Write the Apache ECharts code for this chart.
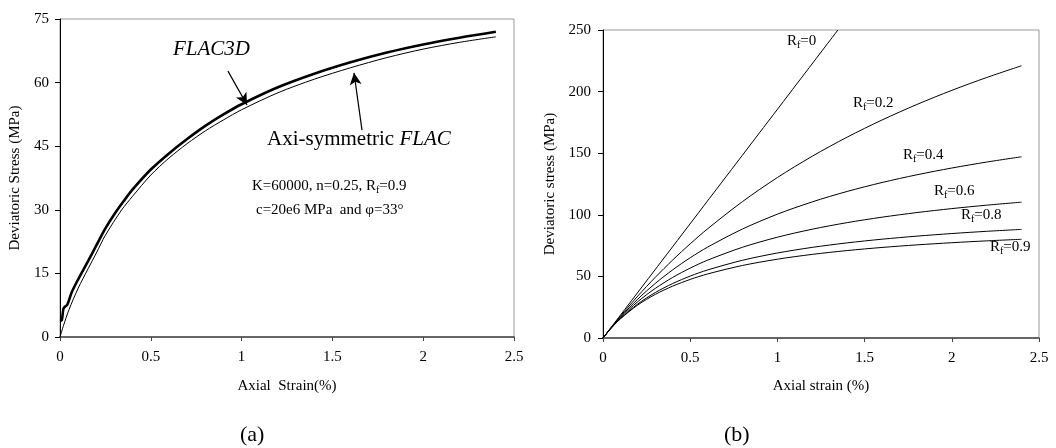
<!DOCTYPE html>
<html><head><meta charset="utf-8">
<script src="https://cdn.jsdelivr.net/npm/echarts@6/dist/echarts.min.js"></script>
<style>html,body{margin:0;padding:0;background:#fff}#c{width:1056px;height:448px}</style>
</head><body><div id="c"></div>
<script>
// ---- Data ----
// (a) stress-strain: [strain %, deviatoric stress MPa]
const flac3d = [[0,3.8],[0.01,4.0],[0.02,6.8],[0.04,7.6],[0.064,10.5],[0.1,13.6],[0.156,18.0],[0.2,21.6],[0.25,25.6],[0.3,29.0],[0.35,32.0],[0.4,34.8],[0.5,39.5],[0.6,43.3],[0.7,46.7],[0.8,49.8],[0.9,52.5],[1.0,54.9],[1.2,58.9],[1.4,62.1],[1.6,64.8],[1.8,67.1],[2.0,69.0],[2.2,70.6],[2.4,72.0]];
const axiFlac = [[0,0],[0.02,2.8],[0.05,6.5],[0.1,11.5],[0.156,16.2],[0.2,19.8],[0.25,24.0],[0.34,30.0],[0.4,33.2],[0.5,38.2],[0.6,42.2],[0.7,45.6],[0.8,48.6],[0.9,51.2],[1.0,53.6],[1.2,57.6],[1.4,60.8],[1.6,63.5],[1.8,65.9],[2.0,67.9],[2.2,69.5],[2.4,70.8]];
// (b) strain points and stresses for each Rf
const strainB = [0,0.05,0.1,0.2,0.3,0.4,0.5,0.6,0.8,1.0,1.2,1.4,1.6,1.8,2.0,2.2,2.4];
const rf0 = [[0,0],[1.347,250]];
const rf02 = [0,9.06,17.76,34.13,49.29,63.35,76.44,88.65,110.75,130.25,147.56,163.04,176.96,189.55,201.0,211.44,221.0];
const rf04 = [0,8.88,17.07,31.68,44.32,55.38,65.12,73.78,88.48,100.5,110.5,118.96,126.21,132.48,137.97,142.81,147.11];
const rf06 = [0,8.70,16.43,29.55,40.27,49.19,56.73,63.19,73.67,81.81,88.32,93.64,98.07,101.82,105.03,107.82,110.25];
const rf08 = [0,8.53,15.84,27.69,36.89,44.24,50.25,55.25,63.10,68.99,73.56,77.21,80.20,82.69,84.79,86.60,88.16];
const rf09 = [0,8.45,15.56,26.84,35.41,42.12,47.54,51.99,58.88,63.97,67.88,70.98,73.50,75.59,77.34,78.84,80.13];
const xTicksA = {min:0,max:2.5,interval:0.5};
const yTicksA = {min:0,max:75,interval:15};
const xTicksB = {min:0,max:2.5,interval:0.5};
const yTicksB = {min:0,max:250,interval:50};

const pair = (xs, ys) => xs.map((x,i)=>[x, ys[i]]);
const FONT = '"Liberation Serif","Times New Roman",serif';

const chart = echarts.init(document.getElementById('c'), null, {renderer:'canvas'});
const axisBase = (t) => ({
  type:'value', min:t.min, max:t.max, interval:t.interval,
  splitLine:{show:false},
  axisLabel:{color:'#000', fontFamily:FONT, fontSize:15},
  nameTextStyle:{color:'#000', fontFamily:FONT, fontSize:15},
  nameLocation:'middle'
});
const rich = {
  n:{fontFamily:FONT, fontSize:15, color:'#000'},
  s:{fontFamily:FONT, fontSize:10, color:'#000', padding:[8,0,0,0]},
  i:{fontFamily:FONT, fontSize:21, fontStyle:'italic', color:'#000'},
  b:{fontFamily:FONT, fontSize:21, color:'#000'}
};
const rfLabel = (v, x, y) => ({type:'text', left:x, top:y, style:{text:'{n|R}{s|f}{n|='+v+'}', rich:rich}});

const lineS = (name, data, xi, w) => ({
  type:'line', name, data, xAxisIndex:xi, yAxisIndex:xi, showSymbol:false, symbol:'none',
  smooth:0.3, lineStyle:{color:'#000', width:w}, silent:true, animation:false
});

const arrowLine = (a, b) => ({
  silent:true, symbol:['none','arrow'], symbolSize:[9,12], animation:false,
  lineStyle:{color:'#000', width:1.2, type:'solid'}, label:{show:false},
  data:[[{coord:a},{coord:b}]]
});

const axiSeries = lineS('Axi-symmetric FLAC', axiFlac, 0, 1);
axiSeries.markLine = arrowLine([1.663,48.8],[1.619,62.3]);
const f3dSeries = lineS('FLAC3D', flac3d, 0, 2.6);
f3dSeries.markLine = arrowLine([0.925,62.7],[1.03,54.7]);

chart.setOption({
  animation:false,
  backgroundColor:'#fff',
  grid:[
    {left:60, top:19, width:454, height:318, show:true, borderColor:'#999', borderWidth:1},
    {left:603, top:30, width:436, height:308, show:true, borderColor:'#999', borderWidth:1}
  ],
  xAxis:[
    Object.assign(axisBase(xTicksA), {gridIndex:0, name:'Axial  Strain(%)', nameGap:42,
      axisLine:{lineStyle:{color:'#444', width:1.5}}, axisTick:{inside:false, length:4, lineStyle:{color:'#444'}},
      axisLabel:{color:'#000', fontFamily:FONT, fontSize:15, margin:13}}),
    Object.assign(axisBase(xTicksB), {gridIndex:1, name:'Axial strain (%)', nameGap:41,
      axisLine:{lineStyle:{color:'#444', width:1.5}}, axisTick:{inside:false, length:4, lineStyle:{color:'#444'}},
      axisLabel:{color:'#000', fontFamily:FONT, fontSize:15, margin:13}})
  ],
  yAxis:[
    Object.assign(axisBase(yTicksA), {gridIndex:0, name:'Deviatoric Stress (MPa)', nameGap:37,
      axisLine:{lineStyle:{color:'#000', width:1}}, axisTick:{length:5, lineStyle:{color:'#000'}},
      axisLabel:{color:'#000', fontFamily:FONT, fontSize:15, margin:11}}),
    Object.assign(axisBase(yTicksB), {gridIndex:1, name:'Deviatoric stress (MPa)', nameGap:45,
      axisLine:{lineStyle:{color:'#000', width:1}}, axisTick:{length:5, lineStyle:{color:'#000'}},
      axisLabel:{color:'#000', fontFamily:FONT, fontSize:15, margin:12}})
  ],
  series:[
    axiSeries, f3dSeries,
    lineS('Rf=0', rf0, 1, 1),
    lineS('Rf=0.2', pair(strainB, rf02), 1, 1),
    lineS('Rf=0.4', pair(strainB, rf04), 1, 1),
    lineS('Rf=0.6', pair(strainB, rf06), 1, 1),
    lineS('Rf=0.8', pair(strainB, rf08), 1, 1),
    lineS('Rf=0.9', pair(strainB, rf09), 1, 1)
  ],
  graphic:[
    {type:'text', left:173, top:39, style:{text:'{i|FLAC3D}', rich:rich}},
    {type:'text', left:267, top:129, style:{text:'{b|Axi-symmetric }{i|FLAC}', rich:rich}},
    {type:'text', left:252, top:179, style:{text:'{n|K=60000, n=0.25, R}{s|f}{n|=0.9}', rich:rich}},
    {type:'text', left:256, top:203, style:{text:'{n|c=20e6 MPa  and φ=33°}', rich:rich}},
    rfLabel('0', 787, 34),
    rfLabel('0.2', 853, 96),
    rfLabel('0.4', 903, 148),
    rfLabel('0.6', 934, 184),
    rfLabel('0.8', 961, 208),
    rfLabel('0.9', 990, 240),
    {type:'text', left:240, top:424, style:{text:'(a)', font:'22px '+FONT, fill:'#000'}},
    {type:'text', left:724, top:424, style:{text:'(b)', font:'22px '+FONT, fill:'#000'}}
  ]
});
</script></body></html>
